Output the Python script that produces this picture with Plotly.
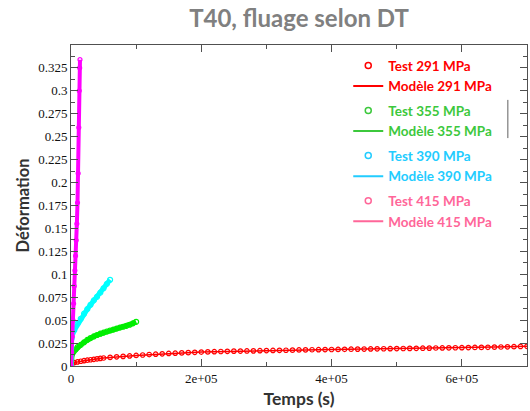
import plotly.graph_objects as go

# ---------------- data ----------------
# 291 MPa (red)
t_test_291 = [0, 2000, 5000, 10000, 15000, 20000, 25000, 30000, 35000, 40000, 45000,
              50000, 60000, 70000, 80000, 90000, 100000, 110000, 120000, 130000, 140000,
              150000, 160000, 170000, 180000, 190000, 200000, 210000, 220000, 230000,
              240000, 250000, 260000, 270000, 280000, 290000, 300000, 310000, 320000,
              330000, 340000, 350000, 360000, 370000, 380000, 390000, 400000, 410000,
              420000, 430000, 440000, 450000, 460000, 470000, 480000, 490000, 500000,
              510000, 520000, 530000, 540000, 550000, 560000, 570000, 580000, 590000,
              600000, 610000, 620000, 630000, 640000, 650000, 660000, 670000, 680000,
              690000, 700000]
e_test_291 = [0.0, 0.0030, 0.0037, 0.0045, 0.0052, 0.0058, 0.0063, 0.0068, 0.0073, 0.0078, 0.0083,
              0.0087, 0.0094, 0.0100, 0.0105, 0.0110, 0.0115, 0.0120, 0.0125, 0.0129, 0.0133,
              0.0137, 0.0140, 0.0143, 0.0146, 0.0149, 0.0152, 0.0154, 0.0156, 0.0158,
              0.0160, 0.0162, 0.0163, 0.0164, 0.0165, 0.0167, 0.0168, 0.0170, 0.0171,
              0.0172, 0.0173, 0.0175, 0.0176, 0.0177, 0.0178, 0.0179, 0.0180, 0.0181,
              0.0182, 0.0183, 0.0184, 0.0185, 0.0186, 0.0187, 0.0188, 0.0189, 0.0190,
              0.0191, 0.0192, 0.0193, 0.0194, 0.0195, 0.0196, 0.0197, 0.0198, 0.0199,
              0.0200, 0.0201, 0.0202, 0.0203, 0.0204, 0.0206, 0.0207, 0.0209, 0.0211,
              0.0213, 0.0215]
t_model_291 = [0, 1000, 5000, 20000, 50000, 100000, 200000, 300000, 400000, 500000, 600000, 700000]
e_model_291 = [0.0, 0.0028, 0.0037, 0.0058, 0.0087, 0.0115, 0.0152, 0.0168, 0.0180, 0.0190, 0.0200, 0.0214]

# 355 MPa (green)
t_test_355 = [0, 300, 2000, 4000, 7000, 10000, 15000, 20000, 25000, 30000, 35000, 40000,
              45000, 50000, 55000, 60000, 65000, 70000, 75000, 80000, 85000, 90000, 95000, 100000]
e_test_355 = [0.0, 0.0110, 0.0135, 0.0156, 0.0180, 0.0205, 0.0230, 0.0258, 0.0285, 0.0305, 0.0322, 0.0338,
              0.0352, 0.0364, 0.0376, 0.0387, 0.0397, 0.0408, 0.0418, 0.0428, 0.0438, 0.0450, 0.0465, 0.0482]
t_model_355 = t_test_355
e_model_355 = e_test_355

# 390 MPa (cyan)
t_test_390 = [0, 300, 1000, 2500, 5000, 10000, 15000, 20000, 25000, 30000, 35000, 40000,
              45000, 50000, 55000, 60000]
e_test_390 = [0.0, 0.0200, 0.0300, 0.0360, 0.0390, 0.0462, 0.0515, 0.0570, 0.0620, 0.0668, 0.0715, 0.0755,
              0.0800, 0.0848, 0.0895, 0.0940]
t_model_390 = t_test_390
e_model_390 = e_test_390

# 415 MPa (magenta)
t_test_415 = [0, 1000, 2000, 3000, 4000, 5000, 6000, 7000, 8000, 9000, 10000, 11000,
              12000, 12700, 13300, 13800]
e_test_415 = [0.0, 0.015, 0.032, 0.050, 0.068, 0.087, 0.104, 0.120, 0.137, 0.155, 0.178, 0.210,
              0.260, 0.300, 0.325, 0.334]
t_model_415 = t_test_415
e_model_415 = e_test_415

x_tick_vals = [0, 200000, 400000, 600000]
x_tick_text = ["0", "2e+05", "4e+05", "6e+05"]
y_tick_vals = [0, 0.025, 0.05, 0.075, 0.1, 0.125, 0.15, 0.175, 0.2, 0.225, 0.25, 0.275, 0.3, 0.325]

stresses = ["291", "355", "390", "415"]
plot_colors = ["#ff0000", "#00ee00", "#00ffff", "#ff00ff"]
legend_colors = ["#ff0000", "#3cc83c", "#22ccff", "#ff6699"]

series = [
    (t_test_291, e_test_291, t_model_291, e_model_291, 1.5, 4.5),
    (t_test_355, e_test_355, t_model_355, e_model_355, 5, 5),
    (t_test_390, e_test_390, t_model_390, e_model_390, 5, 5),
    (t_test_415, e_test_415, t_model_415, e_model_415, 4, 4),
]

fig = go.Figure()

# data traces (not in legend)
for (tt, et, tm, em, lw, ms), col in zip(series, plot_colors):
    fig.add_trace(go.Scatter(x=tm, y=em, mode="lines", line=dict(color=col, width=lw),
                             showlegend=False, hoverinfo="skip"))
    fig.add_trace(go.Scatter(x=tt, y=et, mode="markers",
                             marker=dict(symbol="circle-open", size=ms, color=col,
                                         line=dict(width=1.2, color=col)),
                             showlegend=False))

# legend entries
for s, lc in zip(stresses, legend_colors):
    fig.add_trace(go.Scatter(x=[None], y=[None], mode="markers",
                             marker=dict(symbol="circle-open", size=6, color=lc,
                                         line=dict(width=1.5, color=lc)),
                             name=f"<span style='color:{lc}'><b>Test {s} MPa</b></span>",
                             legendgroup=s))
    fig.add_trace(go.Scatter(x=[None], y=[None], mode="lines",
                             line=dict(color=lc, width=2),
                             name=f"<span style='color:{lc}'><b>Modèle {s} MPa</b></span>",
                             legendgroup=s))

axis_color = "#505050"
tick_font = dict(family="Times New Roman, Liberation Serif, DejaVu Serif, serif", size=13, color="#111111")
fig.update_layout(
    width=530, height=411,
    margin=dict(l=71, r=3, t=45, b=45, autoexpand=False),
    paper_bgcolor="white", plot_bgcolor="white",
    title=dict(text="<b>T40, fluage selon DT</b>", x=0.5, xref="paper", xanchor="center",
               y=1 - 19 / 411, yref="container", yanchor="middle",
               font=dict(family="Lato, Open Sans, sans-serif", size=24, color="#808080")),
    legend=dict(x=0.608, y=0.984, xanchor="left", yanchor="top",
                bgcolor="rgba(0,0,0,0)", borderwidth=0,
                traceorder="grouped", tracegroupgap=4,
                font=dict(family="Lato, sans-serif", size=13.5)),
    xaxis=dict(range=[0, 700000], showline=True, linecolor=axis_color, linewidth=1,
               mirror="allticks", ticks="inside", ticklen=7, tickcolor=axis_color,
               tickvals=x_tick_vals, ticktext=x_tick_text, automargin=False,
               minor=dict(ticks="inside", ticklen=4, dtick=100000, tickcolor=axis_color),
               showgrid=False, zeroline=False, tickfont=tick_font,
               title=dict(text="<b>Temps (s)</b>", standoff=8,
                          font=dict(family="Lato, Open Sans, sans-serif", size=17.5, color="#333333"))),
    yaxis=dict(range=[0, 0.35], showline=True, linecolor=axis_color, linewidth=1,
               mirror="allticks", ticks="inside", ticklen=7, tickcolor=axis_color,
               tickvals=y_tick_vals, automargin=False,
               minor=dict(ticks="inside", ticklen=4, dtick=0.0125, tickcolor=axis_color),
               showgrid=False, zeroline=False, tickfont=tick_font,
               title=dict(text="<b>Déformation</b>", standoff=4,
                          font=dict(family="Lato, Open Sans, sans-serif", size=16.5, color="#333333"))),
    shapes=[dict(type="line", xref="paper", yref="paper", x0=0.958, x1=0.958, y0=0.71, y1=0.829,
                 line=dict(color="#606060", width=1))],
)

fig.write_html("out.html", config={"displayModeBar": False},
               post_script="document.body.style.margin='0';")
